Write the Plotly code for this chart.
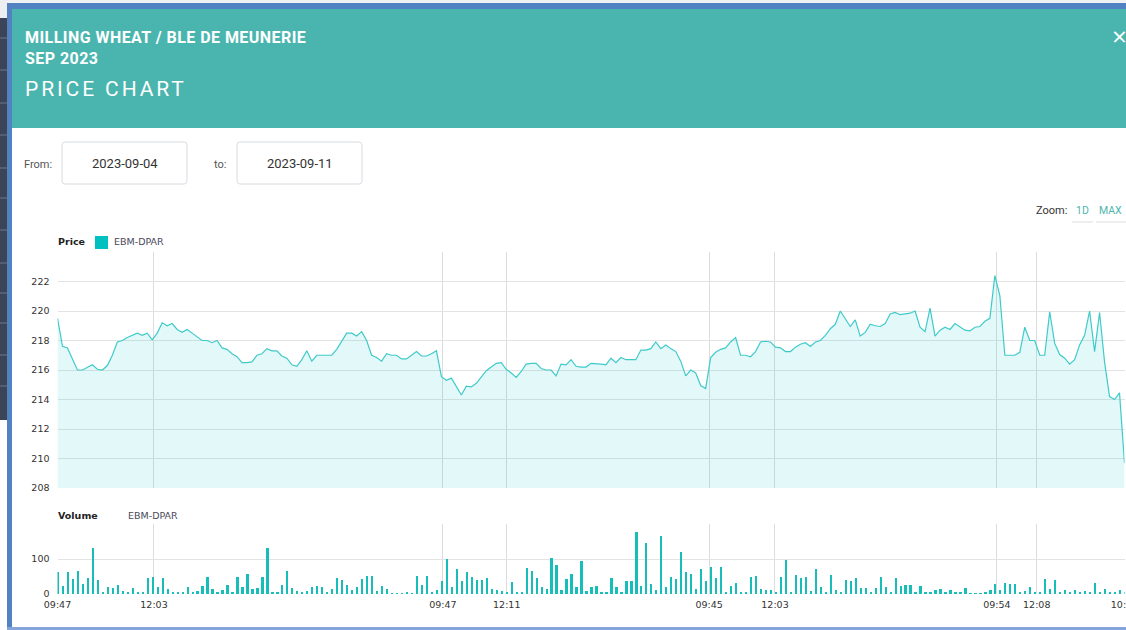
import plotly.graph_objects as go

W, H = 1126, 630

# ---------------- data ----------------
price = [
    219.5, 217.6, 217.5, 216.7, 216.0, 216.0, 216.2, 216.35, 216.05, 216.0,
    216.3, 217.0, 217.9, 218.0, 218.2, 218.35, 218.5, 218.35, 218.5, 218.05,
    218.5, 219.2, 219.0, 219.15, 218.75, 218.55, 218.75, 218.5, 218.25, 218.0,
    218.0, 217.85, 218.0, 217.5, 217.4, 217.1, 216.9, 216.5, 216.5, 216.55,
    217.0, 217.1, 217.45, 217.3, 217.3, 216.95, 216.8, 216.35, 216.25, 216.7,
    217.3, 216.6, 217.0, 217.0, 217.0, 217.0, 217.4, 218.0, 218.5, 218.5,
    218.3, 218.6, 218.0, 217.0, 216.85, 216.6, 217.1, 217.0, 217.0, 216.75,
    216.75, 217.0, 217.25, 216.95, 216.95, 217.1, 217.3, 215.55, 215.3, 215.45,
    214.85, 214.3, 214.9, 214.85, 215.1, 215.55, 215.95, 216.2, 216.45, 216.5,
    216.05, 215.8, 215.5, 215.9, 216.4, 216.45, 216.45, 216.1, 216.0, 216.0,
    215.6, 216.4, 216.35, 216.7, 216.25, 216.2, 216.2, 216.45, 216.45, 216.4,
    216.35, 216.8, 216.5, 216.85, 216.7, 216.7, 216.7, 217.35, 217.35, 217.45,
    217.9, 217.45, 217.7, 217.45, 217.25, 216.6, 215.6, 216.0, 215.8, 214.95,
    214.75, 216.85, 217.2, 217.4, 217.5, 217.9, 218.2, 217.0, 217.0, 216.9,
    217.25, 217.9, 217.95, 217.9, 217.55, 217.5, 217.25, 217.25, 217.55, 217.75,
    217.85, 217.6, 217.9, 218.0, 218.35, 218.8, 219.1, 220.0, 219.45, 218.95,
    219.4, 218.3, 218.55, 219.1, 219.0, 218.95, 219.15, 219.8, 219.9, 219.75,
    219.8, 219.85, 220.0, 218.9, 218.6, 220.2, 218.3, 218.7, 218.9, 218.75,
    219.15, 218.9, 218.7, 218.65, 218.9, 218.95, 219.3, 219.5, 222.4, 221.05,
    217.0, 217.0, 217.0, 217.2, 218.9, 218.0, 218.0, 217.0, 217.0, 219.95,
    217.8, 217.05, 216.8, 216.4, 216.7, 217.7, 218.35, 220.0, 217.25, 219.9,
    216.55, 214.2, 214.0, 214.45, 209.7,
]

volume = [
    64, 23, 62, 43, 65, 29, 47, 132, 40, 5,
    19, 16, 26, 10, 4, 16, 4, 3, 45, 50,
    19, 45, 13, 3, 5, 3, 19, 4, 10, 23,
    48, 13, 4, 12, 26, 3, 48, 19, 58, 13,
    16, 50, 132, 7, 4, 26, 66, 16, 10, 3,
    10, 19, 23, 19, 4, 13, 45, 40, 25, 12,
    19, 42, 52, 52, 10, 23, 13, 2, 2, 2,
    3, 2, 52, 26, 52, 7, 12, 36, 101, 19,
    71, 37, 62, 48, 40, 40, 47, 13, 12, 10,
    7, 34, 4, 4, 74, 66, 45, 19, 13, 103,
    84, 12, 42, 58, 19, 93, 10, 19, 23, 4,
    3, 47, 19, 4, 38, 36, 177, 23, 146, 29,
    12, 165, 19, 50, 42, 119, 62, 58, 13, 71,
    36, 76, 45, 76, 4, 23, 31, 4, 4, 50,
    52, 13, 12, 12, 7, 50, 98, 4, 55, 45,
    50, 10, 72, 19, 7, 55, 12, 4, 40, 36,
    47, 16, 16, 3, 16, 50, 19, 7, 47, 23,
    26, 26, 7, 23, 7, 3, 12, 13, 4, 12,
    7, 7, 16, 2, 2, 2, 3, 12, 29, 12,
    31, 28, 28, 4, 10, 19, 4, 3, 43, 13,
    40, 3, 12, 3, 12, 4, 10, 3, 31, 7,
    13, 4, 3, 12, 5,
]

time_tick_pos = [0, 19.35, 77.3, 90.1, 130.7, 143.9, 188.4, 196.4, 214]
time_tick_labels = ["09:47", "12:03", "09:47", "12:11", "09:45", "12:03", "09:54", "12:08", "10:03"]
price_ticks = [208, 210, 212, 214, 216, 218, 220, 222, 224]
price_tick_labels = ["208", "210", "212", "214", "216", "218", "220", "222", ""]
volume_ticks = [0, 100, 200]
volume_tick_labels = ["0", "100", ""]

idx = list(range(len(price)))


def px(x):
    return x / W


def py(y):
    return 1 - y / H


TEAL_HDR = "#4ab5ae"
LINE = "#3fcaca"
BAR = "#17bdb8"
AXFONT = dict(family="DejaVu Sans", size=9.5, color="#333333")

fig = go.Figure()
fig.add_trace(go.Scatter(
    x=idx, y=price, mode="lines", fill="tozeroy",
    line=dict(color=LINE, width=1.2),
    fillcolor="rgba(0,190,190,0.11)",
    xaxis="x", yaxis="y", showlegend=False, hoverinfo="skip",
))
fig.add_trace(go.Bar(
    x=idx, y=volume, width=0.45,
    marker=dict(color=BAR, line=dict(width=0)),
    xaxis="x2", yaxis="y2", showlegend=False, hoverinfo="skip",
))

xdom = [px(57.5), px(1124.5)]
fig.update_layout(
    width=W, height=H,
    margin=dict(l=0, r=0, t=0, b=0, pad=0, autoexpand=False),
    paper_bgcolor="white", plot_bgcolor="white",
    bargap=0,
    xaxis=dict(domain=xdom, range=[0, 214], anchor="y", automargin=False,
               tickvals=time_tick_pos, ticktext=time_tick_labels,
               showticklabels=False, showgrid=True, gridcolor="#dcdcdc",
               gridwidth=1, zeroline=False, showline=False, ticks=""),
    yaxis=dict(domain=[py(488), py(252)], range=[208, 224], anchor="x",
               automargin=False,
               tickvals=price_ticks, ticktext=price_tick_labels,
               showgrid=True, gridcolor="#e3e3e3", gridwidth=1,
               zeroline=False, showline=False, ticks="",
               tickfont=AXFONT, ticklabelstandoff=7),
    xaxis2=dict(domain=xdom, range=[0, 214], anchor="y2", automargin=False,
                tickvals=time_tick_pos, ticktext=time_tick_labels,
                showticklabels=True, tickfont=AXFONT,
                ticklabeloverflow="allow", ticklabelstandoff=3,
                showgrid=True, gridcolor="#dcdcdc", gridwidth=1,
                zeroline=False, showline=False, ticks=""),
    yaxis2=dict(domain=[py(594), py(524)], range=[0, 200], anchor="x2",
                automargin=False,
                tickvals=volume_ticks, ticktext=volume_tick_labels,
                showgrid=True, gridcolor="#e3e3e3", gridwidth=1,
                zeroline=False, showline=False, ticks="",
                tickfont=AXFONT, ticklabelstandoff=7),
)

shapes = []


def rect(x0, y0, x1, y1, fill, line=None, lw=0):
    shapes.append(dict(type="rect", xref="paper", yref="paper",
                       x0=px(x0), x1=px(x1), y0=py(y1), y1=py(y0),
                       fillcolor=fill, line=dict(width=lw, color=line or fill)))


def hline(x0, x1, y, color, width=1):
    shapes.append(dict(type="line", xref="paper", yref="paper",
                       x0=px(x0), x1=px(x1), y0=py(y), y1=py(y),
                       line=dict(color=color, width=width)))


def rounded_box(x0, y0, x1, y1, r=3, color="#d6dce2"):
    p = (f"M {px(x0 + r)},{py(y0)} L {px(x1 - r)},{py(y0)} "
         f"Q {px(x1)},{py(y0)} {px(x1)},{py(y0 + r)} "
         f"L {px(x1)},{py(y1 - r)} Q {px(x1)},{py(y1)} {px(x1 - r)},{py(y1)} "
         f"L {px(x0 + r)},{py(y1)} Q {px(x0)},{py(y1)} {px(x0)},{py(y1 - r)} "
         f"L {px(x0)},{py(y0 + r)} Q {px(x0)},{py(y0)} {px(x0 + r)},{py(y0)} Z")
    shapes.append(dict(type="path", xref="paper", yref="paper", path=p,
                       fillcolor="white", line=dict(color=color, width=1)))


# page behind the modal
rect(0, 0, W, 3, "#f0f1f3")
rect(0, 0, 7, 18, "#eceef1")
rect(0, 18, 7, 420, "#3b4557")
for yy in [38, 70, 103, 135, 168, 198, 230, 263, 293, 323, 355, 386]:
    hline(0, 7, yy, "#6b7891", 1)
# modal border
rect(7, 3, 12, H, "#5282c2")
rect(7, 3, W, 9, "#5282c2")
rect(7, 627, W, H, "#86a4d8")
# header
rect(12, 9, W, 128, TEAL_HDR)
# date boxes
rounded_box(62, 142, 187, 184)
rounded_box(237, 142, 362, 184)
# zoom buttons underline
hline(1072, 1093, 222, "#e8e8e8", 1.5)
hline(1096, W, 222, "#e8e8e8", 1.5)
# legend square
rect(95, 236, 108, 249, "#00c0c0")

fig.update_layout(shapes=shapes)

ann = []


def text(x, y, s, size, color, family="Roboto", anchor="left", bold=False):
    if bold:
        s = f"<b>{s}</b>"
    ann.append(dict(xref="paper", yref="paper", x=px(x), y=py(y), text=s,
                    showarrow=False, xanchor=anchor, yanchor="middle",
                    font=dict(family=family, size=size, color=color)))


text(23, 37, '<span style="letter-spacing:0.45px">MILLING WHEAT / BLE DE MEUNERIE</span>',
     16, "white", bold=True)
text(23, 58, '<span style="letter-spacing:0.45px">SEP 2023</span>', 16, "white", bold=True)
text(23, 89, '<span style="letter-spacing:2.9px">PRICE CHART</span>', 21, "white")
text(1119, 36, "×", 26, "white", family="Open Sans", anchor="center")

text(22, 165, "From:", 11, "#555555")
text(124.5, 164, "2023-09-04", 13, "#333333", anchor="center")
text(212, 165, "to:", 11, "#555555")
text(299.5, 164, "2023-09-11", 13, "#333333", anchor="center")

text(1034, 211, "Zoom:", 11, "#333333")
text(1082.5, 211, "1D", 10.5, "#4db6ac", anchor="center")
text(1110.5, 211, "MAX", 10.5, "#4db6ac", anchor="center")

text(56, 242, "Price", 9.5, "#222222", family="DejaVu Sans", bold=True)
text(112, 242, "EBM-DPAR", 9.5, "#4a4a5a", family="DejaVu Sans")
text(56, 515, "Volume", 9.5, "#222222", family="DejaVu Sans", bold=True)
text(126, 515, "EBM-DPAR", 9.5, "#4a4a5a", family="DejaVu Sans")

fig.update_layout(annotations=ann)

fig.write_html(
    "out.html",
    config={"displayModeBar": False},
    post_script="document.body.style.margin='0';document.body.style.overflow='hidden';",
)
